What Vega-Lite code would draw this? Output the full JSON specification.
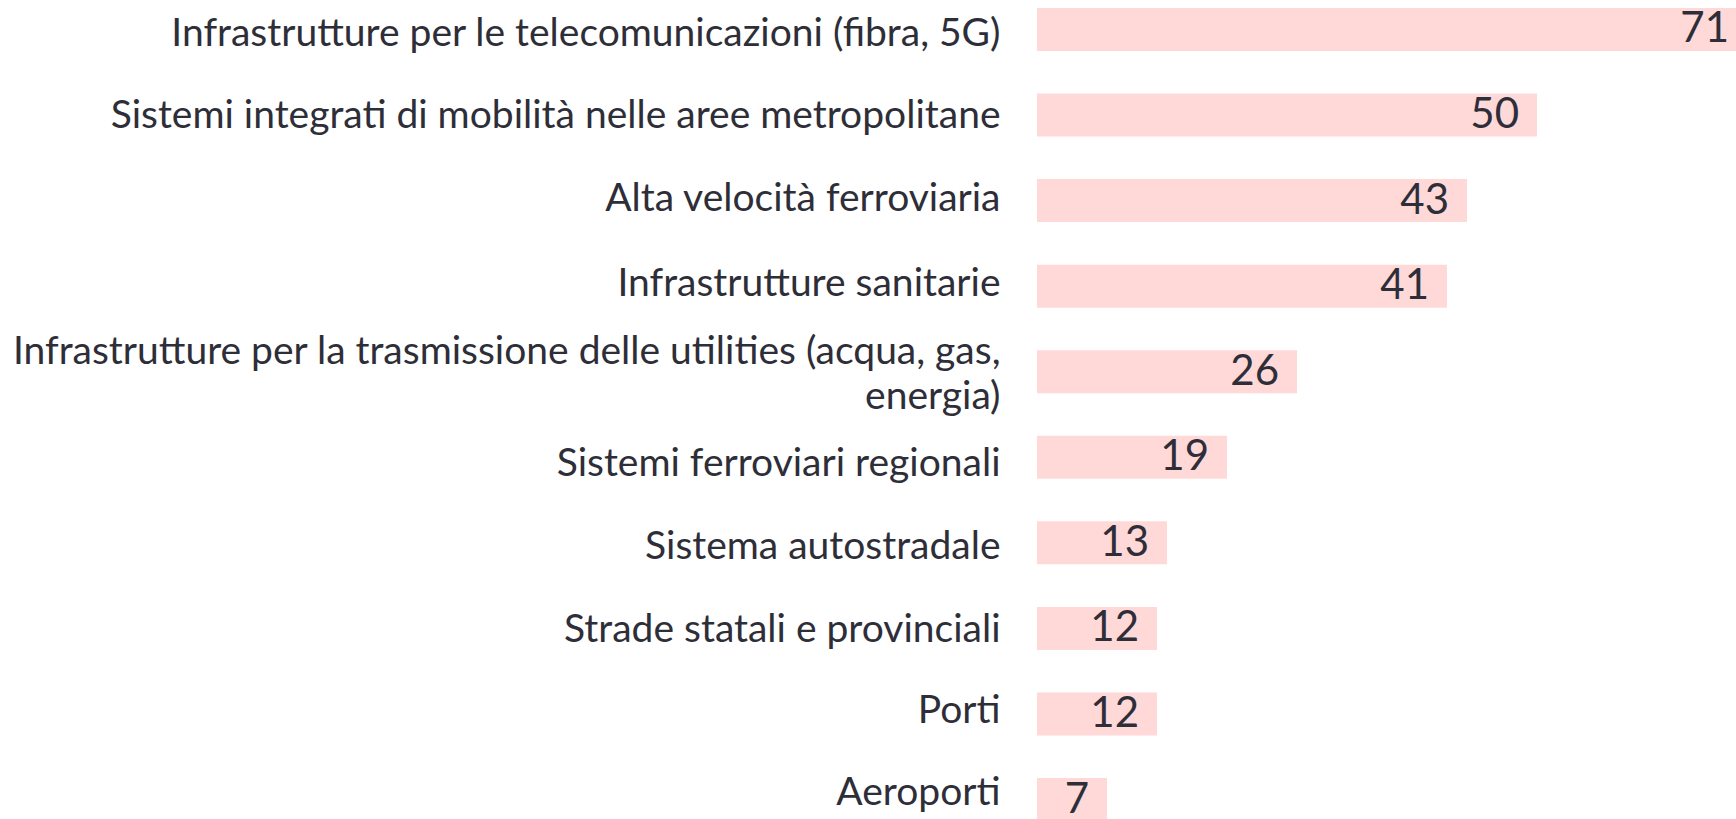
{
  "$schema": "https://vega.github.io/schema/vega-lite/v6.json",
  "autosize": "none",
  "padding": {"left": 1037, "top": 0, "right": 0, "bottom": 0},
  "width": 699,
  "height": 819,
  "background": "#ffffff",
  "config": {"view": {"stroke": null}},
  "data": {"values": [
    {"voce": "Infrastrutture per le telecomunicazioni (fibra, 5G)", "valore": 71},
    {"voce": "Sistemi integrati di mobilità nelle aree metropolitane", "valore": 50},
    {"voce": "Alta velocità ferroviaria", "valore": 43},
    {"voce": "Infrastrutture sanitarie", "valore": 41},
    {"voce": "Infrastrutture per la trasmissione delle utilities (acqua, gas,|energia)", "valore": 26},
    {"voce": "Sistemi ferroviari regionali", "valore": 19},
    {"voce": "Sistema autostradale", "valore": 13},
    {"voce": "Strade statali e provinciali", "valore": 12},
    {"voce": "Porti", "valore": 12},
    {"voce": "Aeroporti", "valore": 7}
  ]},
  "encoding": {
    "y": {
      "field": "voce", "type": "nominal", "sort": null,
      "scale": {"paddingInner": 0.498, "paddingOuter": 0.0935, "range": [0, 829]},
      "axis": {
        "title": null, "ticks": false, "domain": false, "grid": false,
        "labelPadding": 37, "labelLimit": 1100,
        "labelFont": "Lato", "labelFontSize": 39, "labelColor": "#2e2e38",
        "labelLineHeight": 45,
        "labelOffset": {"condition": [
          {"test": "indexof(datum.value, '|') >= 0", "value": -20},
          {"test": "indexof(datum.value, 'telecomunicazioni') >= 0", "value": 4.5},
          {"test": "indexof(datum.value, 'metropolitane') >= 0", "value": 1},
          {"test": "indexof(datum.value, 'Alta') >= 0", "value": -1.7},
          {"test": "indexof(datum.value, 'sanitarie') >= 0", "value": -2},
          {"test": "indexof(datum.value, 'regionali') >= 0", "value": 6.5},
          {"test": "indexof(datum.value, 'autostradale') >= 0", "value": 4},
          {"test": "indexof(datum.value, 'provinciali') >= 0", "value": 2},
          {"test": "datum.value === 'Porti'", "value": -3},
          {"test": "datum.value === 'Aeroporti'", "value": -6.6}
        ], "value": 0},
        "labelExpr": "split(datum.value, '|')"
      }
    },
    "x": {
      "field": "valore", "type": "quantitative",
      "scale": {"domain": [0, 69.9], "nice": false, "zero": true},
      "axis": null
    }
  },
  "layer": [
    {"mark": {"type": "bar", "color": "#ffd8d8", "clip": true}},
    {"mark": {"type": "text", "align": "right", "baseline": "middle", "dx": -18, "font": "Lato", "fontSize": 42, "color": "#2e2e38"},
     "encoding": {"text": {"field": "valore", "type": "quantitative"}}}
  ]
}
